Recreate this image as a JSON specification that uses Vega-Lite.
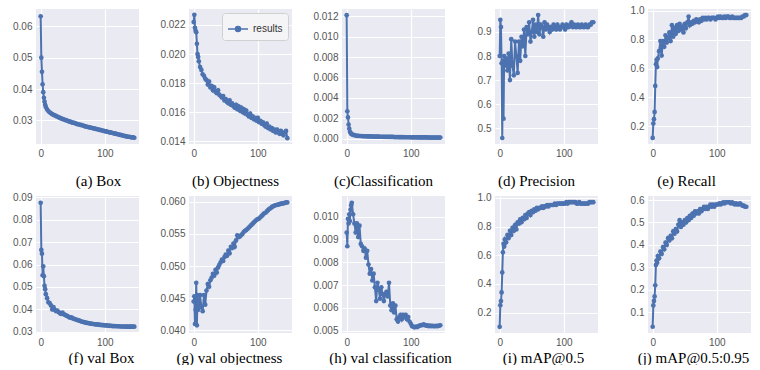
{
"$schema":"https://vega.github.io/schema/vega-lite/v6.json",
"padding":{"left":12,"top":5,"right":0,"bottom":0},
"background":"white",
"data":{"values":[
{"ep":0,"a":0.0632,"b":0.0222,"c":0.0121,"d":0.80,"r":0.12,"f":0.0875,"g":0.0445,"h":0.0093,"i":0.10,"j":0.035},
{"ep":1,"a":0.0500,"b":0.0227,"c":0.0027,"d":0.95,"r":0.22,"f":0.0665,"g":0.0453,"h":0.0087,"i":0.25,"j":0.13},
{"ep":2,"a":0.0455,"b":0.0218,"c":0.0021,"d":0.92,"r":0.25,"f":0.0648,"g":0.0410,"h":0.0099,"i":0.28,"j":0.15},
{"ep":3,"a":0.0415,"b":0.0216,"c":0.0014,"d":0.77,"r":0.30,"f":0.0552,"g":0.0432,"h":0.0097,"i":0.34,"j":0.17},
{"ep":4,"a":0.0390,"b":0.0215,"c":0.0010,"d":0.46,"r":0.48,"f":0.0592,"g":0.0474,"h":0.0101,"i":0.48,"j":0.22},
{"ep":5,"a":0.0372,"b":0.0207,"c":0.0007,"d":0.78,"r":0.63,"f":0.0548,"g":0.0408,"h":0.0098,"i":0.62,"j":0.31},
{"ep":6,"a":0.0360,"b":0.0200,"c":0.0006,"d":0.54,"r":0.66,"f":0.0505,"g":0.0455,"h":0.0103,"i":0.68,"j":0.33},
{"ep":7,"a":0.0350,"b":0.0198,"c":0.0005,"d":0.80,"r":0.61,"f":0.0490,"g":0.0432,"h":0.0105,"i":0.66,"j":0.32},
{"ep":8,"a":0.0343,"b":0.0195,"c":0.00045,"d":0.76,"r":0.67,"f":0.0468,"g":0.0440,"h":0.0106,"i":0.71,"j":0.35},
{"ep":10,"a":0.0335,"b":0.0191,"c":0.0004,"d":0.79,"r":0.72,"f":0.0450,"g":0.0455,"h":0.0101,"i":0.69,"j":0.34},
{"ep":12,"a":0.0330,"b":0.0189,"c":0.00036,"d":0.74,"r":0.79,"f":0.0432,"g":0.0436,"h":0.0097,"i":0.74,"j":0.37},
{"ep":14,"a":0.0326,"b":0.0186,"c":0.00033,"d":0.81,"r":0.69,"f":0.0428,"g":0.0430,"h":0.0093,"i":0.72,"j":0.36},
{"ep":16,"a":0.0323,"b":0.0185,"c":0.0003,"d":0.70,"r":0.79,"f":0.0418,"g":0.0455,"h":0.0097,"i":0.77,"j":0.39},
{"ep":18,"a":0.0320,"b":0.0183,"c":0.0003,"d":0.87,"r":0.75,"f":0.0400,"g":0.0440,"h":0.0091,"i":0.74,"j":0.38},
{"ep":20,"a":0.0318,"b":0.0182,"c":0.00028,"d":0.76,"r":0.83,"f":0.0410,"g":0.0462,"h":0.0096,"i":0.79,"j":0.41},
{"ep":22,"a":0.0316,"b":0.0179,"c":0.00028,"d":0.72,"r":0.78,"f":0.0398,"g":0.0472,"h":0.0088,"i":0.77,"j":0.40},
{"ep":24,"a":0.0314,"b":0.0181,"c":0.00027,"d":0.86,"r":0.81,"f":0.0392,"g":0.0468,"h":0.0087,"i":0.81,"j":0.43},
{"ep":26,"a":0.0312,"b":0.0177,"c":0.00026,"d":0.80,"r":0.85,"f":0.0395,"g":0.0478,"h":0.0085,"i":0.78,"j":0.42},
{"ep":28,"a":0.0310,"b":0.0178,"c":0.00026,"d":0.73,"r":0.79,"f":0.0388,"g":0.0482,"h":0.0086,"i":0.83,"j":0.44},
{"ep":30,"a":0.0308,"b":0.0175,"c":0.00025,"d":0.86,"r":0.90,"f":0.0383,"g":0.0488,"h":0.0082,"i":0.82,"j":0.43},
{"ep":32,"a":0.0306,"b":0.0177,"c":0.00025,"d":0.78,"r":0.82,"f":0.0380,"g":0.0485,"h":0.0085,"i":0.85,"j":0.46},
{"ep":34,"a":0.0305,"b":0.0174,"c":0.00024,"d":0.88,"r":0.88,"f":0.0386,"g":0.0494,"h":0.0079,"i":0.83,"j":0.45},
{"ep":36,"a":0.0303,"b":0.0173,"c":0.00024,"d":0.84,"r":0.84,"f":0.0378,"g":0.0490,"h":0.0075,"i":0.86,"j":0.47},
{"ep":38,"a":0.0302,"b":0.0175,"c":0.00024,"d":0.91,"r":0.90,"f":0.0376,"g":0.0498,"h":0.0077,"i":0.85,"j":0.46},
{"ep":40,"a":0.0300,"b":0.0172,"c":0.00023,"d":0.80,"r":0.86,"f":0.0372,"g":0.0502,"h":0.0072,"i":0.88,"j":0.49},
{"ep":42,"a":0.0299,"b":0.0171,"c":0.00023,"d":0.92,"r":0.91,"f":0.0370,"g":0.0506,"h":0.0075,"i":0.86,"j":0.51},
{"ep":44,"a":0.0297,"b":0.0170,"c":0.00023,"d":0.89,"r":0.87,"f":0.0366,"g":0.0510,"h":0.0069,"i":0.89,"j":0.48},
{"ep":46,"a":0.0296,"b":0.0171,"c":0.00022,"d":0.94,"r":0.89,"f":0.0363,"g":0.0508,"h":0.0063,"i":0.90,"j":0.50},
{"ep":48,"a":0.0294,"b":0.0168,"c":0.00022,"d":0.86,"r":0.85,"f":0.0365,"g":0.0514,"h":0.0071,"i":0.88,"j":0.49},
{"ep":50,"a":0.0293,"b":0.0169,"c":0.00022,"d":0.90,"r":0.91,"f":0.0360,"g":0.0518,"h":0.0068,"i":0.91,"j":0.51},
{"ep":52,"a":0.0292,"b":0.0167,"c":0.00021,"d":0.95,"r":0.88,"f":0.0358,"g":0.0516,"h":0.0064,"i":0.90,"j":0.50},
{"ep":54,"a":0.0291,"b":0.0166,"c":0.00021,"d":0.88,"r":0.92,"f":0.0356,"g":0.0524,"h":0.0069,"i":0.92,"j":0.52},
{"ep":56,"a":0.0289,"b":0.0168,"c":0.00021,"d":0.93,"r":0.96,"f":0.0354,"g":0.0520,"h":0.0066,"i":0.91,"j":0.51},
{"ep":58,"a":0.0288,"b":0.0165,"c":0.0002,"d":0.90,"r":0.90,"f":0.0352,"g":0.0530,"h":0.0063,"i":0.93,"j":0.53},
{"ep":60,"a":0.0287,"b":0.0166,"c":0.0002,"d":0.97,"r":0.92,"f":0.0350,"g":0.0528,"h":0.0066,"i":0.92,"j":0.52},
{"ep":62,"a":0.0286,"b":0.0164,"c":0.0002,"d":0.89,"r":0.91,"f":0.0348,"g":0.0535,"h":0.0067,"i":0.93,"j":0.54},
{"ep":64,"a":0.0285,"b":0.0163,"c":0.0002,"d":0.93,"r":0.93,"f":0.0346,"g":0.0530,"h":0.0065,"i":0.93,"j":0.53},
{"ep":66,"a":0.0284,"b":0.0165,"c":0.00019,"d":0.92,"r":0.92,"f":0.0344,"g":0.0540,"h":0.0071,"i":0.94,"j":0.55},
{"ep":68,"a":0.0282,"b":0.0162,"c":0.00019,"d":0.88,"r":0.94,"f":0.0343,"g":0.0548,"h":0.0061,"i":0.93,"j":0.54},
{"ep":70,"a":0.0281,"b":0.0164,"c":0.00019,"d":0.94,"r":0.93,"f":0.0341,"g":0.0545,"h":0.0059,"i":0.94,"j":0.55},
{"ep":72,"a":0.0280,"b":0.0161,"c":0.00019,"d":0.91,"r":0.92,"f":0.0340,"g":0.0546,"h":0.0062,"i":0.94,"j":0.54},
{"ep":74,"a":0.0279,"b":0.0163,"c":0.00018,"d":0.93,"r":0.94,"f":0.0339,"g":0.0548,"h":0.0058,"i":0.95,"j":0.56},
{"ep":76,"a":0.0278,"b":0.0160,"c":0.00018,"d":0.92,"r":0.93,"f":0.0338,"g":0.0550,"h":0.0061,"i":0.94,"j":0.55},
{"ep":78,"a":0.0277,"b":0.0162,"c":0.00018,"d":0.90,"r":0.95,"f":0.0337,"g":0.0553,"h":0.0055,"i":0.95,"j":0.56},
{"ep":80,"a":0.0276,"b":0.0159,"c":0.00018,"d":0.92,"r":0.94,"f":0.0336,"g":0.0555,"h":0.0054,"i":0.95,"j":0.57},
{"ep":82,"a":0.0275,"b":0.0161,"c":0.00017,"d":0.91,"r":0.95,"f":0.0335,"g":0.0556,"h":0.0056,"i":0.95,"j":0.56},
{"ep":84,"a":0.0274,"b":0.0158,"c":0.00017,"d":0.93,"r":0.94,"f":0.0334,"g":0.0558,"h":0.0057,"i":0.95,"j":0.57},
{"ep":86,"a":0.0273,"b":0.0157,"c":0.00017,"d":0.92,"r":0.95,"f":0.0333,"g":0.0560,"h":0.0055,"i":0.96,"j":0.56},
{"ep":88,"a":0.0272,"b":0.0159,"c":0.00017,"d":0.91,"r":0.95,"f":0.0333,"g":0.0562,"h":0.0057,"i":0.95,"j":0.57},
{"ep":90,"a":0.0271,"b":0.0156,"c":0.00016,"d":0.93,"r":0.94,"f":0.0332,"g":0.0564,"h":0.0056,"i":0.96,"j":0.58},
{"ep":92,"a":0.0270,"b":0.0157,"c":0.00016,"d":0.92,"r":0.95,"f":0.0331,"g":0.0566,"h":0.0057,"i":0.96,"j":0.57},
{"ep":94,"a":0.0269,"b":0.0155,"c":0.00016,"d":0.91,"r":0.95,"f":0.0331,"g":0.0568,"h":0.0055,"i":0.96,"j":0.58},
{"ep":96,"a":0.0268,"b":0.0156,"c":0.00016,"d":0.92,"r":0.95,"f":0.0330,"g":0.0570,"h":0.0056,"i":0.96,"j":0.57},
{"ep":98,"a":0.0267,"b":0.0154,"c":0.00016,"d":0.93,"r":0.94,"f":0.0330,"g":0.0572,"h":0.0054,"i":0.96,"j":0.58},
{"ep":100,"a":0.0266,"b":0.0156,"c":0.00015,"d":0.92,"r":0.95,"f":0.0329,"g":0.0573,"h":0.0053,"i":0.96,"j":0.58},
{"ep":102,"a":0.0265,"b":0.0153,"c":0.00015,"d":0.91,"r":0.96,"f":0.0329,"g":0.0574,"h":0.0052,"i":0.96,"j":0.58},
{"ep":104,"a":0.0264,"b":0.0154,"c":0.00015,"d":0.93,"r":0.95,"f":0.0328,"g":0.0576,"h":0.00517,"i":0.97,"j":0.585},
{"ep":106,"a":0.0263,"b":0.0152,"c":0.00015,"d":0.92,"r":0.96,"f":0.0328,"g":0.0578,"h":0.00515,"i":0.96,"j":0.58},
{"ep":108,"a":0.0262,"b":0.0153,"c":0.00015,"d":0.92,"r":0.95,"f":0.0327,"g":0.0580,"h":0.00518,"i":0.97,"j":0.585},
{"ep":110,"a":0.0261,"b":0.0151,"c":0.00015,"d":0.93,"r":0.95,"f":0.0327,"g":0.0582,"h":0.00516,"i":0.97,"j":0.59},
{"ep":112,"a":0.0260,"b":0.0150,"c":0.00014,"d":0.94,"r":0.96,"f":0.0326,"g":0.0583,"h":0.0052,"i":0.97,"j":0.585},
{"ep":114,"a":0.0259,"b":0.0152,"c":0.00014,"d":0.92,"r":0.95,"f":0.0326,"g":0.0585,"h":0.00522,"i":0.97,"j":0.59},
{"ep":116,"a":0.0258,"b":0.0149,"c":0.00014,"d":0.93,"r":0.96,"f":0.0326,"g":0.0587,"h":0.00525,"i":0.97,"j":0.59},
{"ep":118,"a":0.0257,"b":0.0150,"c":0.00014,"d":0.92,"r":0.96,"f":0.0325,"g":0.0589,"h":0.00524,"i":0.97,"j":0.59},
{"ep":120,"a":0.0256,"b":0.0148,"c":0.00014,"d":0.92,"r":0.95,"f":0.0325,"g":0.0590,"h":0.00528,"i":0.96,"j":0.59},
{"ep":122,"a":0.0255,"b":0.0149,"c":0.00014,"d":0.93,"r":0.95,"f":0.0325,"g":0.0592,"h":0.00525,"i":0.96,"j":0.585},
{"ep":124,"a":0.0254,"b":0.0147,"c":0.00014,"d":0.92,"r":0.96,"f":0.0324,"g":0.0593,"h":0.00522,"i":0.97,"j":0.59},
{"ep":126,"a":0.0253,"b":0.0148,"c":0.00014,"d":0.92,"r":0.95,"f":0.0324,"g":0.0594,"h":0.00523,"i":0.96,"j":0.585},
{"ep":128,"a":0.0252,"b":0.0146,"c":0.00013,"d":0.93,"r":0.95,"f":0.0324,"g":0.0595,"h":0.0052,"i":0.96,"j":0.58},
{"ep":130,"a":0.0251,"b":0.0148,"c":0.00013,"d":0.92,"r":0.95,"f":0.0324,"g":0.0595,"h":0.00522,"i":0.96,"j":0.585},
{"ep":132,"a":0.0250,"b":0.0146,"c":0.00013,"d":0.92,"r":0.95,"f":0.0323,"g":0.0596,"h":0.0052,"i":0.96,"j":0.58},
{"ep":134,"a":0.0249,"b":0.0145,"c":0.00013,"d":0.93,"r":0.95,"f":0.0323,"g":0.0596,"h":0.00521,"i":0.96,"j":0.58},
{"ep":136,"a":0.0248,"b":0.0147,"c":0.00013,"d":0.92,"r":0.95,"f":0.0323,"g":0.0597,"h":0.0052,"i":0.96,"j":0.585},
{"ep":138,"a":0.0248,"b":0.0145,"c":0.00013,"d":0.92,"r":0.95,"f":0.0323,"g":0.0597,"h":0.0052,"i":0.96,"j":0.58},
{"ep":140,"a":0.0247,"b":0.0144,"c":0.00013,"d":0.93,"r":0.96,"f":0.0323,"g":0.0598,"h":0.00521,"i":0.97,"j":0.575},
{"ep":142,"a":0.0246,"b":0.0146,"c":0.00013,"d":0.93,"r":0.96,"f":0.0323,"g":0.0598,"h":0.0052,"i":0.97,"j":0.575},
{"ep":144,"a":0.0246,"b":0.0147,"c":0.00013,"d":0.94,"r":0.97,"f":0.0323,"g":0.0599,"h":0.00522,"i":0.97,"j":0.57},
{"ep":146,"a":0.0245,"b":0.0142,"c":0.00013,"d":0.94,"r":0.97,"f":0.0323,"g":0.0599,"h":0.00524,"i":0.97,"j":0.57}
]},
"config":{
"view":{"fill":"#EAEAF2","stroke":null},
"axis":{"domain":false,"ticks":false,"gridColor":"#FFFFFF","gridWidth":1.2,"labelColor":"#555555","labelFont":"Liberation Sans","labelFontSize":10,"labelPadding":4,"titleFont":"Liberation Serif","titleFontSize":15,"titleFontWeight":"normal","titleColor":"#000000"},
"axisY":{"title":null}
},
"resolve":{"scale":{"color":"independent"},"legend":{"color":"independent"}},
"bounds":"flush",
"columns":5,
"spacing":{"row":52,"column":50},
"concat":[
{"width":103,"height":135,"mark":{"type":"line","color":"#4C72B0","strokeWidth":2,"point":{"filled":true,"size":22,"color":"#4C72B0"}},
"encoding":{"x":{"field":"ep","type":"quantitative","scale":{"domain":[-7.3,153.3],"nice":false,"zero":false},"axis":{"values":[0,100],"title":"(a) Box","titleX":62,"titleAlign":"center","titlePadding":15}},
"y":{"field":"a","type":"quantitative","scale":{"domain":[0.0225,0.0655],"nice":false,"zero":false},"axis":{"values":[0.03,0.04,0.05,0.06],"format":".2f"}}}},
{"width":103,"height":135,"mark":{"type":"line","color":"#4C72B0","strokeWidth":2,"point":{"filled":true,"size":22,"color":"#4C72B0"}},
"encoding":{"x":{"field":"ep","type":"quantitative","scale":{"domain":[-7.3,153.3],"nice":false,"zero":false},"axis":{"values":[0,100],"title":"(b) Objectness","titleX":46,"titleAlign":"center","titlePadding":15}},
"y":{"field":"b","type":"quantitative","scale":{"domain":[0.0138,0.0231],"nice":false,"zero":false},"axis":{"values":[0.014,0.016,0.018,0.020,0.022],"format":".3f"}},
"color":{"datum":"results","type":"nominal","scale":{"range":["#4C72B0"]},"legend":{"title":null,"orient":"top-right","offset":4,"fillColor":"#F4F4F7","strokeColor":"#D0D0D0","cornerRadius":3,"padding":5,"labelFontSize":10,"labelColor":"#333333","labelFont":"Liberation Sans","symbolType":"M-1,0L1,0M-0.25,0A0.25,0.25 0 1,0 0.25,0A0.25,0.25 0 1,0 -0.25,0","symbolSize":400,"symbolStrokeWidth":1.5,"symbolFillColor":"#4C72B0","symbolStrokeColor":"#4C72B0"}}}},
{"width":103,"height":135,"mark":{"type":"line","color":"#4C72B0","strokeWidth":2,"point":{"filled":true,"size":22,"color":"#4C72B0"}},
"encoding":{"x":{"field":"ep","type":"quantitative","scale":{"domain":[-7.3,153.3],"nice":false,"zero":false},"axis":{"values":[0,100],"title":"(c)Classification","titleX":41,"titleAlign":"center","titlePadding":15}},
"y":{"field":"c","type":"quantitative","scale":{"domain":[-0.0005,0.0127],"nice":false,"zero":false},"axis":{"values":[0,0.002,0.004,0.006,0.008,0.010,0.012],"format":".3f"}}}},
{"width":103,"height":135,"mark":{"type":"line","color":"#4C72B0","strokeWidth":2,"point":{"filled":true,"size":22,"color":"#4C72B0"}},
"encoding":{"x":{"field":"ep","type":"quantitative","scale":{"domain":[-7.3,153.3],"nice":false,"zero":false},"axis":{"values":[0,100],"title":"(d) Precision","titleX":41,"titleAlign":"center","titlePadding":15}},
"y":{"field":"d","type":"quantitative","scale":{"domain":[0.435,0.995],"nice":false,"zero":false},"axis":{"values":[0.5,0.6,0.7,0.8,0.9],"format":".1f"}}}},
{"width":103,"height":135,"mark":{"type":"line","color":"#4C72B0","strokeWidth":2,"point":{"filled":true,"size":22,"color":"#4C72B0"}},
"encoding":{"x":{"field":"ep","type":"quantitative","scale":{"domain":[-7.3,153.3],"nice":false,"zero":false},"axis":{"values":[0,100],"title":"(e) Recall","titleX":38,"titleAlign":"center","titlePadding":15}},
"y":{"field":"r","type":"quantitative","scale":{"domain":[0.078,1.012],"nice":false,"zero":false},"axis":{"values":[0.2,0.4,0.6,0.8,1.0],"format":".1f"}}}},
{"width":103,"height":137,"mark":{"type":"line","color":"#4C72B0","strokeWidth":2,"point":{"filled":true,"size":22,"color":"#4C72B0"}},
"encoding":{"x":{"field":"ep","type":"quantitative","scale":{"domain":[-7.3,153.3],"nice":false,"zero":false},"axis":{"values":[0,100],"title":"(f) val Box","titleX":65,"titleAlign":"center","titlePadding":3}},
"y":{"field":"f","type":"quantitative","scale":{"domain":[0.0295,0.0905],"nice":false,"zero":false},"axis":{"values":[0.03,0.04,0.05,0.06,0.07,0.08,0.09],"format":".2f"}}}},
{"width":103,"height":137,"mark":{"type":"line","color":"#4C72B0","strokeWidth":2,"point":{"filled":true,"size":22,"color":"#4C72B0"}},
"encoding":{"x":{"field":"ep","type":"quantitative","scale":{"domain":[-7.3,153.3],"nice":false,"zero":false},"axis":{"values":[0,100],"title":"(g) val objectness","titleX":40,"titleAlign":"center","titlePadding":3}},
"y":{"field":"g","type":"quantitative","scale":{"domain":[0.0396,0.0609],"nice":false,"zero":false},"axis":{"values":[0.040,0.045,0.050,0.055,0.060],"format":".3f"}}}},
{"width":103,"height":137,"mark":{"type":"line","color":"#4C72B0","strokeWidth":2,"point":{"filled":true,"size":22,"color":"#4C72B0"}},
"encoding":{"x":{"field":"ep","type":"quantitative","scale":{"domain":[-7.3,153.3],"nice":false,"zero":false},"axis":{"values":[0,100],"title":"(h) val classification","titleX":48,"titleAlign":"center","titlePadding":3}},
"y":{"field":"h","type":"quantitative","scale":{"domain":[0.0049,0.0109],"nice":false,"zero":false},"axis":{"values":[0.005,0.006,0.007,0.008,0.009,0.010],"format":".3f"}}}},
{"width":103,"height":137,"mark":{"type":"line","color":"#4C72B0","strokeWidth":2,"point":{"filled":true,"size":22,"color":"#4C72B0"}},
"encoding":{"x":{"field":"ep","type":"quantitative","scale":{"domain":[-7.3,153.3],"nice":false,"zero":false},"axis":{"values":[0,100],"title":"(i) mAP@0.5","titleX":48,"titleAlign":"center","titlePadding":3}},
"y":{"field":"i","type":"quantitative","scale":{"domain":[0.057,1.013],"nice":false,"zero":false},"axis":{"values":[0.2,0.4,0.6,0.8,1.0],"format":".1f"}}}},
{"width":103,"height":137,"mark":{"type":"line","color":"#4C72B0","strokeWidth":2,"point":{"filled":true,"size":22,"color":"#4C72B0"}},
"encoding":{"x":{"field":"ep","type":"quantitative","scale":{"domain":[-7.3,153.3],"nice":false,"zero":false},"axis":{"values":[0,100],"title":"(j) mAP@0.5:0.95","titleX":45,"titleAlign":"center","titlePadding":3}},
"y":{"field":"j","type":"quantitative","scale":{"domain":[0.007,0.618],"nice":false,"zero":false},"axis":{"values":[0.1,0.2,0.3,0.4,0.5,0.6],"format":".1f"}}}}
]
}
